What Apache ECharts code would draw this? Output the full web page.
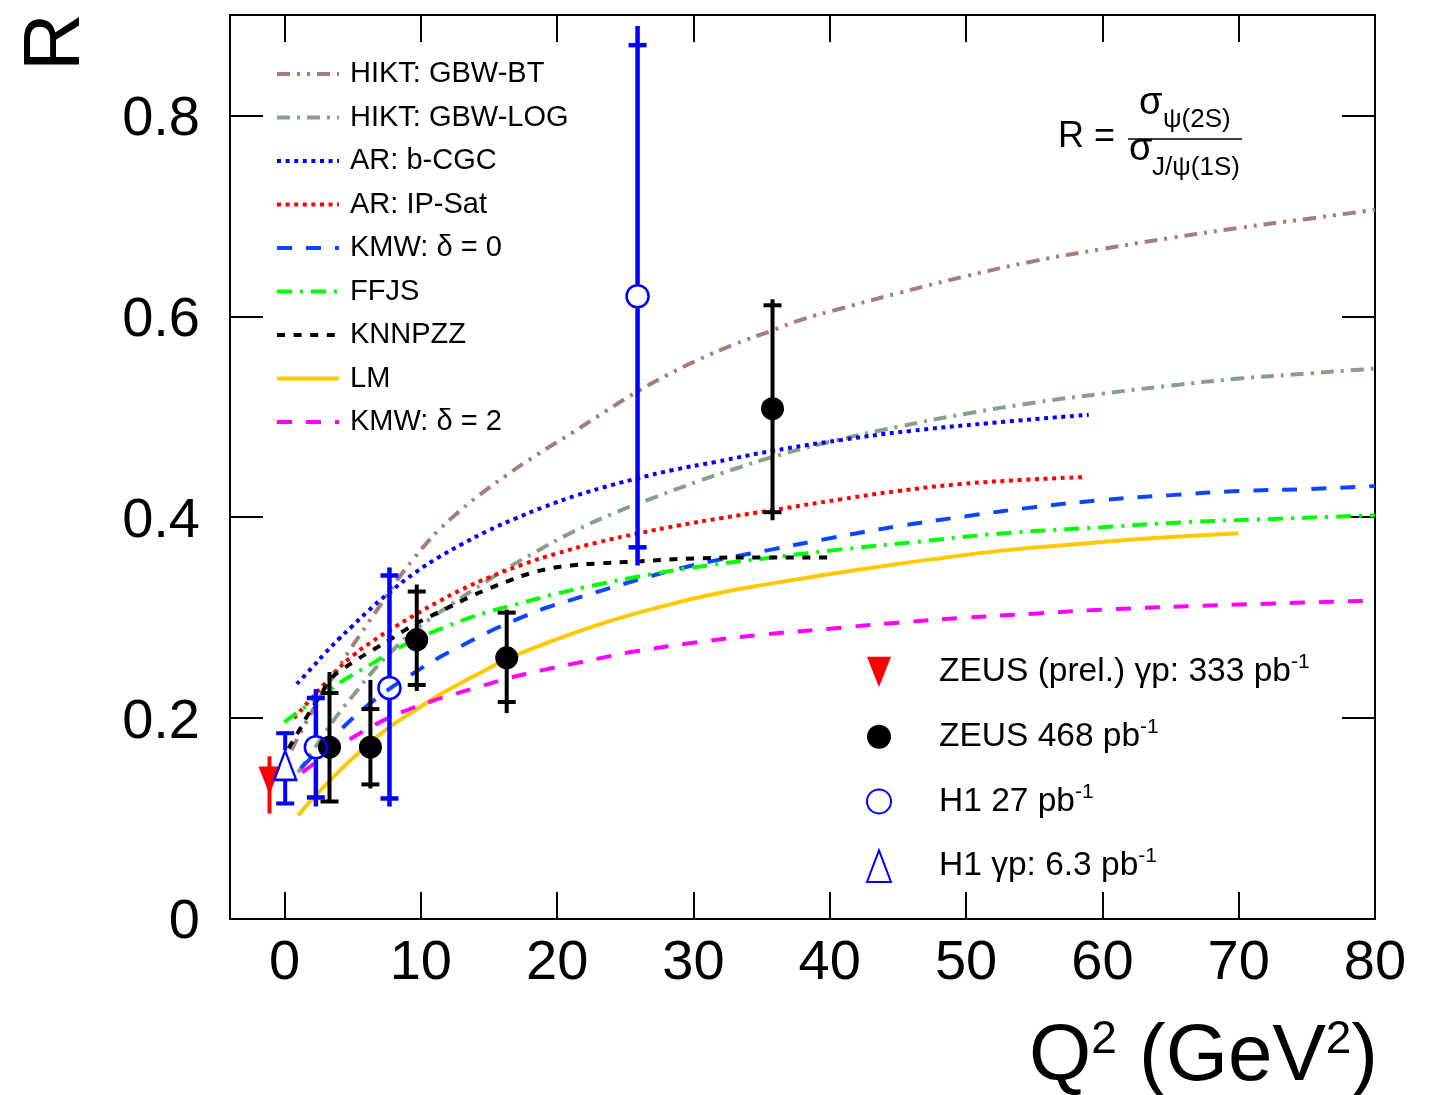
<!DOCTYPE html>
<html>
<head>
<meta charset="utf-8">
<script src="https://cdn.jsdelivr.net/npm/echarts@6/dist/echarts.min.js"></script>
<style>
  html, body { margin: 0; padding: 0; background: #fff; }
  #chart { width: 1440px; height: 1095px; }
</style>
</head>
<body>
<div id="chart"></div>
<script>
const FONT = '"Liberation Sans", Arial, Helvetica, sans-serif';

// Axis tick positions
const xTicks = [0, 10, 20, 30, 40, 50, 60, 70, 80];
const yTicks = [0, 0.2, 0.4, 0.6, 0.8];

// Model predictions, [Q2 (GeV^2), R]
const hiktBT = [[0.5,0.168],[1.5,0.194],[2.5,0.218],[3.5,0.240],[4.7,0.266],[6.0,0.292],[7.2,0.316],[8.4,0.340],[9.5,0.359],[10.6,0.377],[11.3,0.387],[12.5,0.402],[14,0.419],[16.2,0.441],[18.5,0.462],[21.1,0.484],[23.5,0.505],[26,0.526],[28,0.541],[30.4,0.557],[33,0.572],[35.8,0.586],[38,0.597],[40.9,0.608],[45,0.623],[50,0.640],[55,0.655],[60,0.667],[65,0.678],[70,0.688],[75,0.697],[80,0.706]];
const hiktLOG = [[1.0,0.146],[2.0,0.166],[3.0,0.186],[4.0,0.205],[5.3,0.227],[6.5,0.247],[7.6,0.263],[9,0.281],[10.5,0.297],[12,0.311],[14,0.329],[16.2,0.348],[18.5,0.366],[21.1,0.385],[24,0.403],[27,0.419],[30.4,0.436],[33,0.448],[35.8,0.460],[40,0.475],[45,0.490],[50,0.503],[55,0.514],[60,0.523],[65,0.531],[70,0.538],[75,0.543],[80,0.548]];
const arBCGC = [[0.9,0.234],[2,0.250],[3,0.265],[4,0.279],[5,0.292],[6,0.305],[7.6,0.324],[9.6,0.345],[11.3,0.360],[13,0.373],[15,0.387],[17,0.399],[19,0.410],[21.5,0.422],[24,0.432],[26,0.439],[28.5,0.447],[31.6,0.455],[35.8,0.466],[40.9,0.477],[46,0.486],[52.8,0.495],[59,0.502]];
const arIPSat = [[0.7,0.200],[2,0.220],[3,0.235],[4,0.250],[5,0.262],[6.4,0.276],[8,0.290],[9.6,0.303],[11.3,0.316],[13,0.328],[15,0.340],[17.5,0.353],[20,0.364],[23,0.375],[26,0.384],[29,0.392],[32,0.399],[35.8,0.407],[40.9,0.418],[45,0.426],[49.6,0.433],[54,0.437],[58.7,0.440]];
const kmwD0 = [[1.2,0.150],[2.5,0.168],[4,0.187],[5.6,0.207],[7.6,0.228],[9.5,0.245],[11.3,0.260],[13,0.272],[15,0.286],[17,0.298],[19,0.309],[21.1,0.318],[23.5,0.328],[26,0.338],[29,0.349],[32,0.358],[35.8,0.368],[40,0.379],[45,0.391],[50,0.401],[55,0.410],[60,0.417],[65,0.422],[70,0.426],[75,0.428],[80,0.431]];
const ffjs = [[0,0.196],[1.4,0.210],[3,0.225],[4.5,0.239],[6.4,0.254],[8,0.267],[9.6,0.278],[11.3,0.288],[13,0.297],[15,0.306],[17.5,0.315],[20,0.324],[23,0.333],[26,0.341],[30,0.350],[35.8,0.360],[40.9,0.368],[46,0.375],[52.8,0.384],[60,0.390],[66,0.395],[72,0.398],[80,0.402]];
const knnpzz = [[0.3,0.170],[1,0.186],[1.8,0.205],[2.6,0.222],[3.4,0.239],[4.2,0.248],[5.4,0.259],[6.5,0.268],[7.6,0.277],[9,0.289],[10.5,0.300],[12,0.310],[13.5,0.320],[15,0.329],[16.5,0.337],[18,0.344],[19.5,0.349],[21,0.352],[23,0.354],[26,0.356],[30,0.359],[35,0.360],[40,0.360]];
const lm = [[1,0.103],[2,0.119],[3,0.133],[4,0.147],[5.5,0.166],[7.6,0.190],[9.5,0.207],[11.1,0.221],[12.8,0.234],[14.5,0.246],[16.2,0.258],[18.5,0.271],[21.1,0.284],[23.5,0.295],[26,0.305],[28.5,0.314],[31,0.322],[34,0.330],[38,0.339],[43.2,0.350],[48,0.359],[52.8,0.367],[58,0.373],[62.4,0.378],[66,0.381],[70,0.384]];
const kmwD2 = [[1.3,0.146],[2.5,0.158],[3.5,0.168],[4.8,0.179],[6.2,0.190],[7.6,0.200],[9,0.208],[10.6,0.216],[12.5,0.224],[14.5,0.232],[16.5,0.240],[19,0.248],[21.5,0.255],[24,0.262],[26,0.267],[30,0.275],[35,0.283],[40,0.289],[45,0.295],[50,0.300],[55,0.304],[60,0.308],[70,0.313],[80,0.317]];

// Measurements, [Q2, R, inner low, inner high, total low, total high]
const zeusGp = [[-1.1, 0.138, 0.105, 0.162, 0.105, 0.162]];
const zeus468 = [
  [3.3, 0.171, 0.117, 0.225, 0.116, 0.246],
  [6.3, 0.171, 0.134, 0.209, 0.130, 0.238],
  [9.7, 0.278, 0.233, 0.326, 0.227, 0.333],
  [16.3, 0.260, 0.216, 0.305, 0.205, 0.308],
  [35.8, 0.508, 0.405, 0.611, 0.397, 0.617]
];
const h1dis = [
  [2.3, 0.171, 0.121, 0.220, 0.112, 0.229],
  [7.7, 0.230, 0.120, 0.342, 0.112, 0.350],
  [25.9, 0.620, 0.370, 0.870, 0.352, 0.889]
];
const h1gp = [[0.05, 0.153, 0.115, 0.185, 0.115, 0.185]];

// Legend labels
const curveNames = ['HIKT: GBW-BT', 'HIKT: GBW-LOG', 'AR: b-CGC', 'AR: IP-Sat', 'KMW: δ = 0', 'FFJS', 'KNNPZZ', 'LM', 'KMW: δ = 2'];
const dataNames = ['ZEUS (prel.) γp: 333 pb', 'ZEUS 468 pb', 'H1 27 pb', 'H1 γp: 6.3 pb'];

const curveDefs = [
  { name: curveNames[0], data: hiktBT,  color: '#a67d7d', dash: [13, 7, 3, 7, 3, 7] },
  { name: curveNames[1], data: hiktLOG, color: '#889f8e', dash: [13, 7, 3, 7] },
  { name: curveNames[2], data: arBCGC,  color: '#0000ff', dash: [4, 4.6] },
  { name: curveNames[3], data: arIPSat, color: '#ff0000', dash: [4, 4.6] },
  { name: curveNames[4], data: kmwD0,   color: '#0a46ff', dash: [15, 14] },
  { name: curveNames[5], data: ffjs,    color: '#00ff00', dash: [15, 8, 3, 8] },
  { name: curveNames[6], data: knnpzz,  color: '#000000', dash: [8, 8.6] },
  { name: curveNames[7], data: lm,      color: '#ffc800', dash: 'solid' },
  { name: curveNames[8], data: kmwD2,   color: '#ff00ff', dash: [15, 14] }
];

const curveSeries = curveDefs.map(d => ({
  type: 'line',
  name: d.name,
  data: d.data,
  symbol: 'none',
  smooth: 0.5,
  color: d.color,
  lineStyle: { color: d.color, width: 4, type: d.dash },
  z: 2,
  silent: true,
  animation: false
}));

// Vertical error bar with crossbars at the inner error; the line can skip the marker area
function errorBars(color, lineW, capHalf, gapPx) {
  return function (params, api) {
    const x = api.value(0);
    const c = api.coord([x, api.value(1)]);
    const sLo = api.coord([x, api.value(2)])[1];
    const sHi = api.coord([x, api.value(3)])[1];
    const tLo = api.coord([x, api.value(4)])[1];
    const tHi = api.coord([x, api.value(5)])[1];
    const st = { stroke: color, lineWidth: lineW };
    const kids = [];
    if (gapPx > 0) {
      kids.push({ type: 'line', shape: { x1: c[0], y1: tHi, x2: c[0], y2: c[1] - gapPx }, style: st });
      kids.push({ type: 'line', shape: { x1: c[0], y1: c[1] + gapPx, x2: c[0], y2: tLo }, style: st });
    } else {
      kids.push({ type: 'line', shape: { x1: c[0], y1: tHi, x2: c[0], y2: tLo }, style: st });
    }
    if (capHalf > 0) {
      kids.push({ type: 'line', shape: { x1: c[0] - capHalf, y1: sHi, x2: c[0] + capHalf, y2: sHi }, style: st });
      kids.push({ type: 'line', shape: { x1: c[0] - capHalf, y1: sLo, x2: c[0] + capHalf, y2: sLo }, style: st });
    }
    return { type: 'group', children: kids };
  };
}

function barSeries(data, renderItem) {
  return { type: 'custom', data: data, renderItem: renderItem, encode: { x: 0, y: 1 }, z: 3, silent: true, animation: false };
}

const markerSeries = [
  {
    type: 'scatter', name: dataNames[0], data: zeusGp.map(p => [p[0], p[1]]),
    symbol: 'path://M0,0L22,0L11,28Z', symbolSize: [22, 28],
    itemStyle: { color: '#ff0000', opacity: 1 }, z: 4
  },
  {
    type: 'scatter', name: dataNames[1], data: zeus468.map(p => [p[0], p[1]]),
    symbol: 'circle', symbolSize: 23,
    itemStyle: { color: '#000000', opacity: 1 }, z: 4
  },
  {
    type: 'scatter', name: dataNames[2], data: h1dis.map(p => [p[0], p[1]]),
    symbol: 'circle', symbolSize: 22,
    itemStyle: { color: 'rgba(0,0,0,0)', borderColor: '#0000ff', borderWidth: 2.5, opacity: 1 }, z: 4
  },
  {
    type: 'scatter', name: dataNames[3], data: h1gp.map(p => [p[0], p[1]]),
    symbol: 'path://M11,0L22,29L0,29Z', symbolSize: [22, 29],
    itemStyle: { color: 'rgba(0,0,0,0)', borderColor: '#0000ff', borderWidth: 2.5, opacity: 1 }, z: 4
  }
].map(s => Object.assign(s, { silent: true, animation: false }));

const supRich = {
  t: { fontSize: 33.5, fontFamily: FONT, color: '#000', lineHeight: 40 },
  s: { fontSize: 21, fontFamily: FONT, color: '#000', lineHeight: 20, verticalAlign: 'top' }
};

function textStyle(font, align, vAlign) {
  return { font: font, fill: '#000', align: align, verticalAlign: vAlign, textAlign: align, textVerticalAlign: vAlign };
}

const option = {
  animation: false,
  backgroundColor: '#ffffff',
  grid: { left: 230, right: 65, top: 15, bottom: 176, containLabel: false, outerBoundsMode: 'none', show: false },
  xAxis: [
    {
      type: 'value', min: -4, max: 80, position: 'bottom',
      axisLine: { show: true, onZero: false, lineStyle: { color: '#000', width: 2 } },
      axisTick: { show: true, inside: true, length: 27, customValues: xTicks, lineStyle: { color: '#000', width: 2 } },
      axisLabel: { show: true, customValues: xTicks, margin: 17, fontSize: 56, fontFamily: FONT, color: '#000' },
      splitLine: { show: false }
    },
    {
      type: 'value', min: -4, max: 80, position: 'top',
      axisLine: { show: true, onZero: false, lineStyle: { color: '#000', width: 2 } },
      axisTick: { show: true, inside: true, length: 27, customValues: xTicks, lineStyle: { color: '#000', width: 2 } },
      axisLabel: { show: false },
      splitLine: { show: false }
    }
  ],
  yAxis: [
    {
      type: 'value', min: 0, max: 0.9, position: 'left',
      axisLine: { show: true, onZero: false, lineStyle: { color: '#000', width: 2 } },
      axisTick: { show: true, inside: true, length: 33, customValues: yTicks, lineStyle: { color: '#000', width: 2 } },
      axisLabel: {
        show: true, customValues: yTicks, margin: 30, fontSize: 56, fontFamily: FONT, color: '#000',
        verticalAlign: 'top', lineHeight: 8,
        formatter: v => (v === 0 ? '0' : v.toFixed(1))
      },
      splitLine: { show: false }
    },
    {
      type: 'value', min: 0, max: 0.9, position: 'right',
      axisLine: { show: true, onZero: false, lineStyle: { color: '#000', width: 2 } },
      axisTick: { show: true, inside: true, length: 33, customValues: yTicks, lineStyle: { color: '#000', width: 2 } },
      axisLabel: { show: false },
      splitLine: { show: false }
    }
  ],
  legend: [
    {
      data: curveNames, orient: 'vertical', left: 275, top: 59, padding: 0,
      itemWidth: 62, itemHeight: 30, itemGap: 13.5, selectedMode: false,
      lineStyle: { width: 4 },
      itemStyle: { color: 'rgba(0,0,0,0)', borderColor: 'rgba(0,0,0,0)', borderWidth: 0, opacity: 0 },
      textStyle: { fontSize: 29, fontFamily: FONT, color: '#000', lineHeight: 30, padding: [0, 0, 0, 6] }
    },
    {
      data: dataNames, orient: 'vertical', left: 866, top: 652, padding: 0,
      itemWidth: 24, itemHeight: 40, itemGap: 27.7, selectedMode: false,
      formatter: name => '{t|' + name + '}{s|-1}',
      textStyle: { padding: [0, 0, 0, 43], rich: supRich }
    }
  ],
  graphic: [
    // Y axis title
    { type: 'text', x: 57, y: 42, rotation: Math.PI / 2, style: textStyle('80px ' + FONT, 'center', 'middle') },
    // X axis title
    {
      type: 'text', x: 1378, y: 1058,
      style: {
        text: '{b|Q}{s|2}{b| (GeV}{s|2}{b|)}', align: 'right', verticalAlign: 'middle', textAlign: 'right', textVerticalAlign: 'middle',
        rich: {
          b: { fontSize: 80, fontFamily: FONT, color: '#000', lineHeight: 82 },
          s: { fontSize: 46, fontFamily: FONT, color: '#000', lineHeight: 46, verticalAlign: 'top' }
        }
      }
    },
    // Ratio definition
    { type: 'text', x: 1058, y: 137, style: textStyle('36px ' + FONT, 'left', 'middle') },
    { type: 'text', x: 1139, y: 104, style: textStyle('38px ' + FONT, 'left', 'middle') },
    { type: 'text', x: 1163, y: 120, style: textStyle('26px ' + FONT, 'left', 'middle') },
    { type: 'line', shape: { x1: 1128, y1: 139, x2: 1242, y2: 139 }, style: { stroke: '#000', lineWidth: 1.5 } },
    { type: 'text', x: 1129, y: 150, style: textStyle('38px ' + FONT, 'left', 'middle') },
    { type: 'text', x: 1152, y: 168, style: textStyle('26px ' + FONT, 'left', 'middle') }
  ],
  series: [
    ...curveSeries,
    barSeries(zeusGp, errorBars('#ff0000', 4, 0, 0)),
    barSeries(zeus468, errorBars('#000000', 4, 9, 0)),
    barSeries(h1dis, errorBars('#0000ff', 4.5, 9, 12)),
    barSeries(h1gp, errorBars('#0000ff', 4, 9, 15)),
    ...markerSeries
  ]
};

// Texts of the title and ratio graphics
const graphicTexts = ['R', null, 'R =', 'σ', 'ψ(2S)', null, 'σ', 'J/ψ(1S)'];
option.graphic.forEach((g, i) => { if (graphicTexts[i]) g.style.text = graphicTexts[i]; });

const chart = echarts.init(document.getElementById('chart'), null, { renderer: 'canvas' });
chart.setOption(option);
</script>
</body>
</html>
